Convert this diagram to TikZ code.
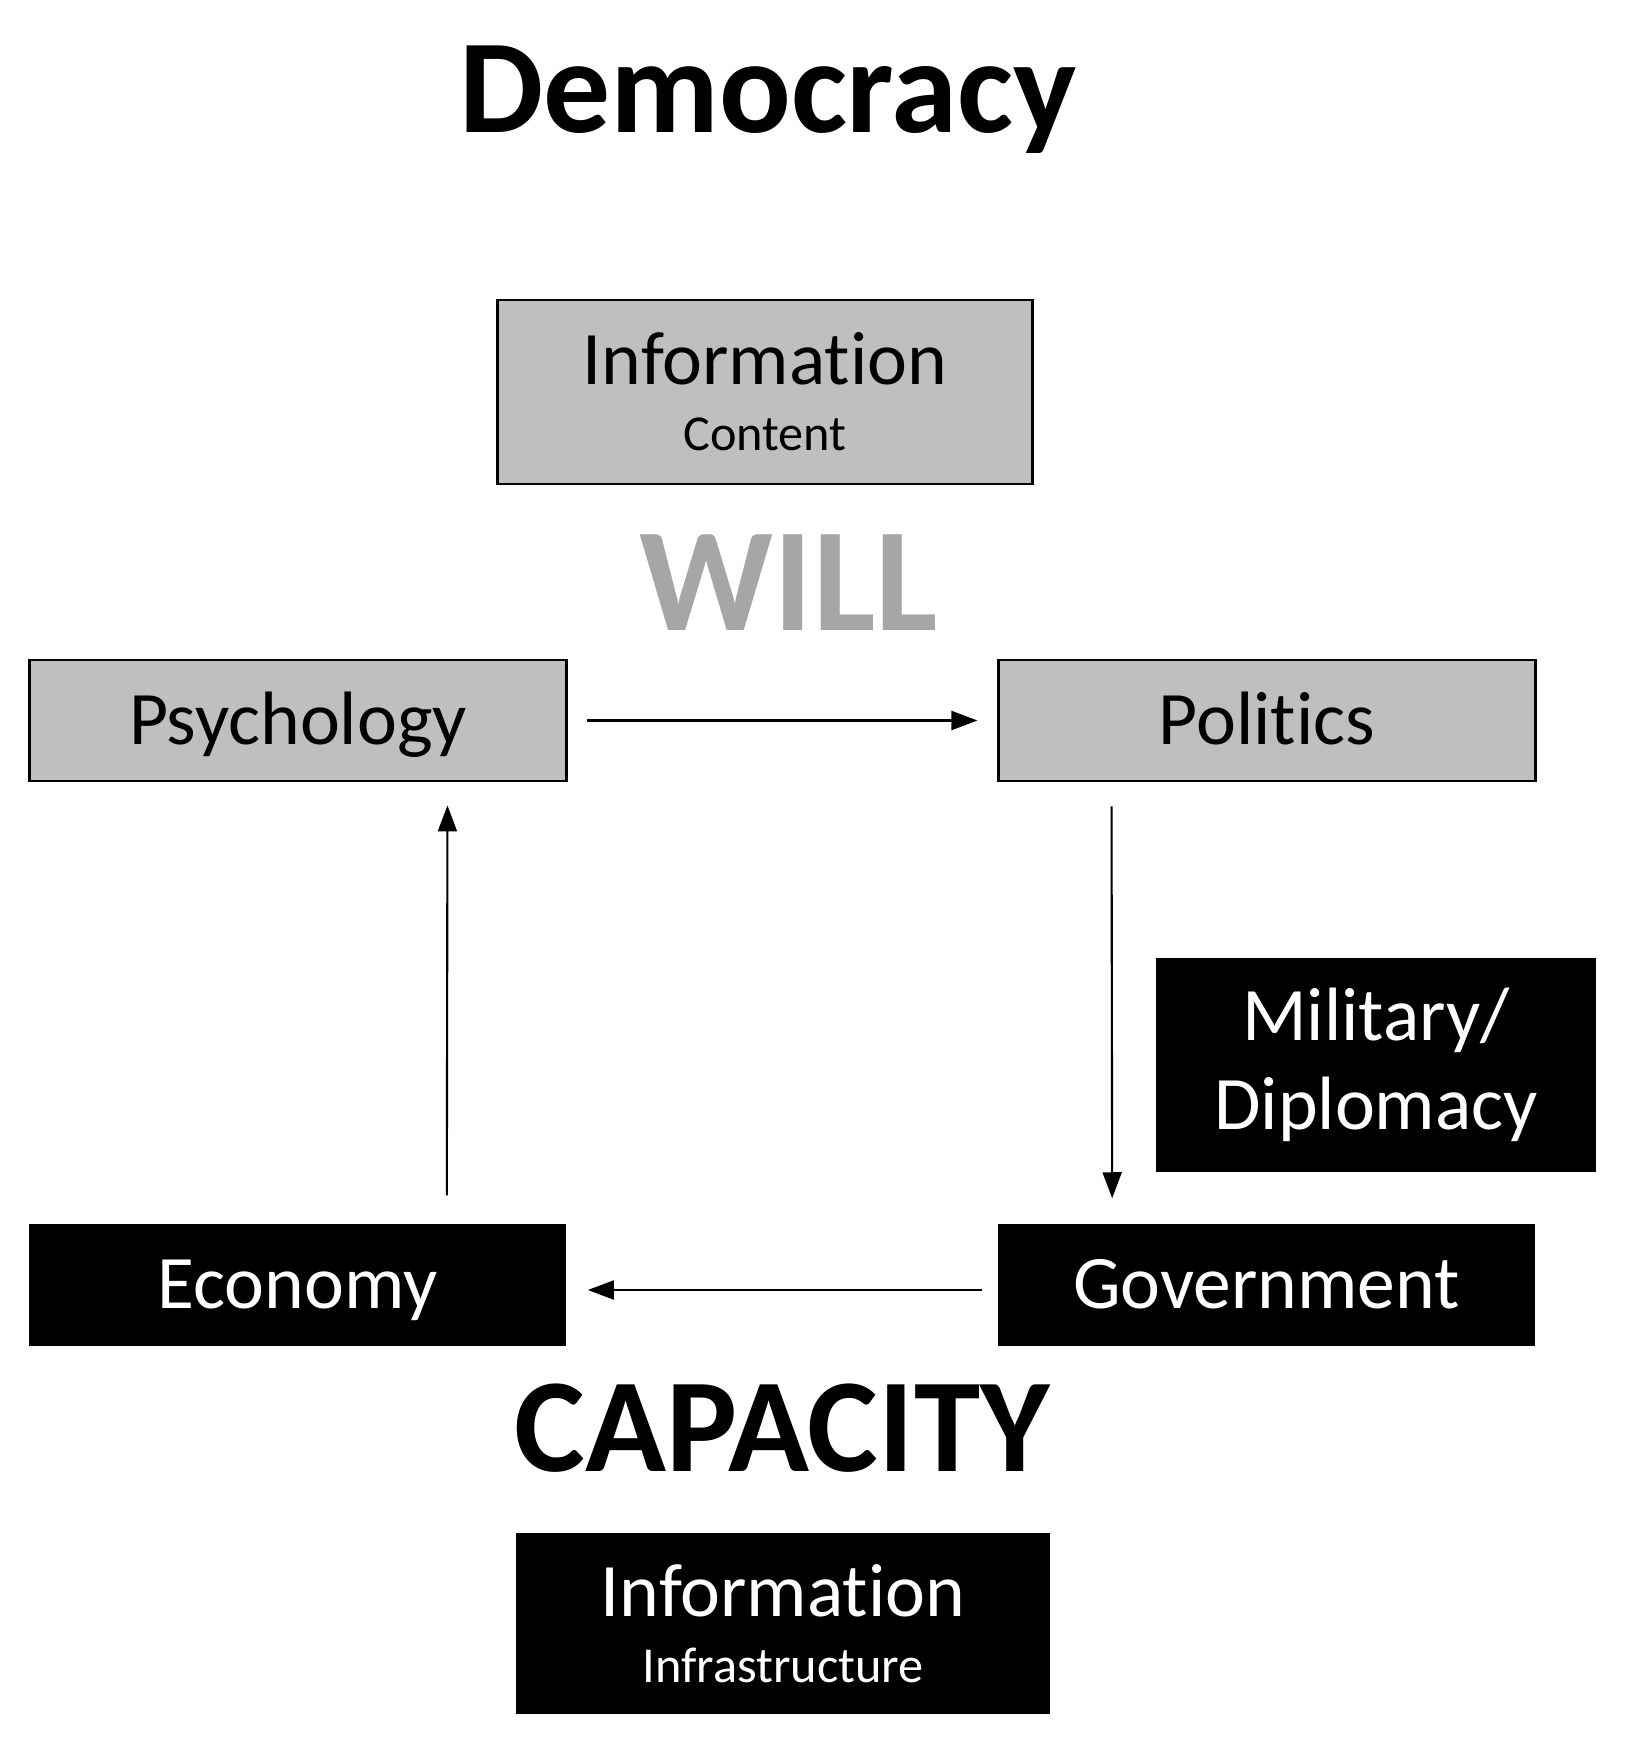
\documentclass[tikz,border=0pt]{standalone}
\usepackage{fontspec}
\setmainfont{Carlito}[Ligatures=NoCommon]
\usepackage{tikz}
\usetikzlibrary{arrows.meta,positioning}
\definecolor{cfill}{HTML}{BFBFBF}
\definecolor{cwill}{HTML}{A6A6A6}
\definecolor{cink}{HTML}{000000}
\tikzset{>={Triangle[length=2.6mm,width=1.9mm]},
  gbx/.style={draw=cink,line width=0.8pt,fill=cfill,text=cink,align=center,inner sep=0pt,font=\fontsize{21.5}{18.8}\selectfont},
  kbx/.style={fill=cink,text=white,align=center,inner sep=0pt,font=\fontsize{21.5}{18.8}\selectfont},
  one/.style={text height=13.6pt,text depth=0pt},
  hd/.style={anchor=base,font=\bfseries},
  lnk/.style={->,line width=0.6pt,draw=cink}}
\newcommand{\subline}[1]{{\fontsize{14.3}{18.8}\selectfont #1}}

\begin{document}
\begin{tikzpicture}[x=0.01cm,y=-0.01cm]
\useasboundingbox (0,0) rectangle (1641,1757);

% ================= headings =================
\node[hd,font=\fontsize{38}{41}\bfseries\selectfont] (title) at (768,132) {Democracy};
\node[hd,text=cwill,font=\fontsize{42}{45}\bfseries\selectfont] (will) at (789,630) {WILL};
\node[hd,font=\fontsize{38}{41}\bfseries\selectfont] (cap) at (782,1471) {CAPACITY};

% ================= will side (gray) =================
\node[gbx,minimum width=5.34cm,minimum height=1.84cm] (infoc) at (765,392) {Information\\ \subline{Content}};
\node[gbx,one,minimum width=5.36cm,minimum height=1.21cm] (psych) at (298,720.5) {Psychology};
\node[gbx,one,minimum width=5.36cm,minimum height=1.21cm] (polit) at (1267,720.5) {Politics};

% ================= capacity side (black) =================
\node[kbx,minimum width=4.40cm,minimum height=2.14cm,font=\fontsize{21.5}{25.3}\selectfont] (milit) at (1376,1065) {Military/\\ Diplomacy};
\node[kbx,one,minimum width=5.37cm,minimum height=1.22cm] (econ) at (297.5,1285) {Economy};
\node[kbx,one,minimum width=5.37cm,minimum height=1.22cm] (gov) at (1266.5,1285) {Government};
\node[kbx,minimum width=5.34cm,minimum height=1.81cm] (infoi) at (783,1623.5) {Information\\ \subline{Infrastructure}};

% ================= cycle =================
\draw[lnk,shorten <=0.19cm,shorten >=0.20cm] (psych.east) -- (polit.west);
\draw[lnk,shorten <=0.24cm,shorten >=0.25cm] ([xshift=1.14cm]polit.south west) -- ([xshift=1.15cm]gov.north west);
\draw[lnk,shorten <=0.15cm,shorten >=0.21cm] ([yshift=-0.05cm]gov.west) -- ([yshift=-0.05cm]econ.east);
\draw[lnk,shorten <=0.28cm,shorten >=0.23cm] ([xshift=-1.20cm]econ.north east) -- ([xshift=-1.20cm]psych.south east);

\end{tikzpicture}
\end{document}
